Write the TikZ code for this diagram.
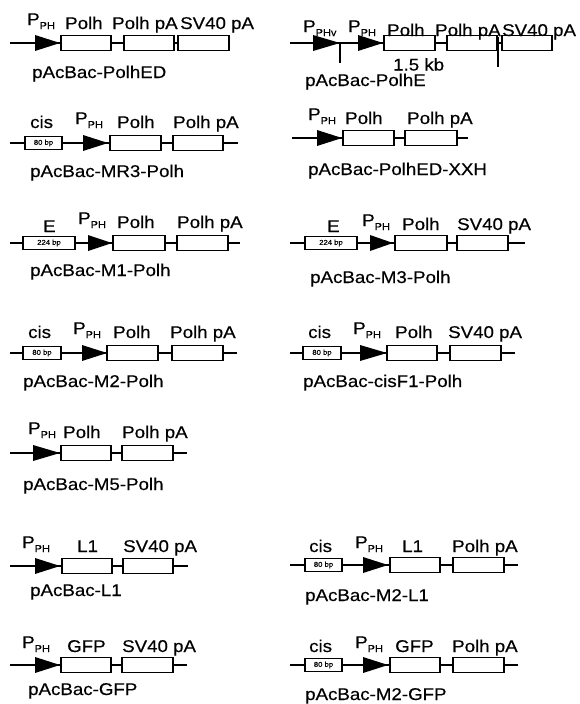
\documentclass[tikz,border=0pt]{standalone}
\usepackage{fontspec}
\setmainfont{Liberation Sans}[FakeStretch=1.1,FakeBold=0.4]
\newcommand\gnbox[4]{\pgfmathsetmacro\gw{#3-#2}\pgfmathsetmacro\gx{(#2+#3)/2}\node[gbox,minimum width=\gw pt] (#1) at (\gx,#4) {};}
\newcommand\gnsmall[5]{\pgfmathsetmacro\gw{#3-#2}\pgfmathsetmacro\gx{(#2+#3)/2}\node[sbox,minimum width=\gw pt] (#1) at (\gx,#4) {#5};}
\newcommand\gntri[4]{\fill (#2,#4-8) -- (#3,#4) -- (#2,#4+8) -- cycle; \coordinate (#1) at (#3,#4);}
\newcommand\pph{\raisebox{4pt}{P}{\fontsize{10}{10}\selectfont PH}}
\newcommand\pphv{\raisebox{4pt}{P}{\fontsize{10}{10}\selectfont PHv}}
\begin{document}
\begin{tikzpicture}[x=1pt,y=-1pt,
 bb/.style={line width=1.8pt},
 gbox/.style={draw,line width=1.8pt,fill=white,minimum height=15pt,inner sep=0pt},
 sbox/.style={draw,line width=1.6pt,fill=white,minimum height=13pt,inner sep=0pt,font=\fontsize{7}{7}\selectfont},
 lbl/.style={anchor=base west,inner sep=0pt,font=\fontsize{17}{17}\selectfont},
 tickline/.style={line width=1.5pt}]
\useasboundingbox[fill=white] (0,0) rectangle (579,704);

% ---------- Row 1 left
\coordinate (a0) at (10,43); \coordinate (a9) at (229,43);
\draw[bb] (a0) -- (a9);
\gntri{at}{35}{60}{43}
\gnbox{a1}{61}{111}{43}\gnbox{a2}{124}{174}{43}\gnbox{a3}{178}{229}{43}
\node[lbl] (al1) at (27,29) {\pph};
\node[lbl] (al2) at (65,29) {Polh};
\node[lbl] (al3) at (112,29) {Polh pA};
\node[lbl] (al4) at (180,29) {SV40 pA};
\node[lbl] (an) at (32,78) {pAcBac-PolhED};

% ---------- Row 1 right
\coordinate (b0) at (290,43); \coordinate (b9) at (552,43);
\draw[bb] (b0) -- (b9);
\gntri{bt1}{313}{340}{43}\gntri{bt2}{358}{383}{43}
\gnbox{b1}{384}{435}{43}\gnbox{b2}{447}{497}{43}\gnbox{b3}{502}{552}{43}
\coordinate (bk1a) at (340,43); \coordinate (bk1b) at (340,63);
\coordinate (bk2a) at (498,37); \coordinate (bk2b) at (498,67);
\draw[tickline] (bk1a) -- (bk1b);
\draw[tickline] (bk2a) -- (bk2b);
\node[lbl] (bl1) at (303,36) {\pphv};
\node[lbl] (bl2) at (348,36) {\pph};
\node[lbl] (bl3) at (387,36) {Polh};
\node[lbl] (bl4) at (435,36) {Polh pA};
\node[lbl] (bl5) at (502,36) {SV40 pA};
\node[lbl] (bkb) at (393,70.5) {1.5 kb};
\node[lbl] (bn) at (305,86) {pAcBac-PolhE};

% ---------- Row 2 left
\coordinate (c0) at (10,143); \coordinate (c9) at (238,143);
\draw[bb] (c0) -- (c9);
\gnsmall{cc}{25}{62}{143}{80 bp}
\gntri{ct}{83}{108}{143}
\gnbox{c1}{110}{161}{143}\gnbox{c2}{173}{223}{143}
\node[lbl] (cl0) at (30,128) {cis};
\node[lbl] (cl1) at (75,128) {\pph};
\node[lbl] (cl2) at (117,128) {Polh};
\node[lbl] (cl3) at (173,128) {Polh pA};
\node[lbl] (cn) at (30,177) {pAcBac-MR3-Polh};

% ---------- Row 2 right
\coordinate (d0) at (292,138); \coordinate (d9) at (468,138);
\draw[bb] (d0) -- (d9);
\gntri{dt}{317}{342}{138}
\gnbox{d1}{343}{394}{138}\gnbox{d2}{405}{457}{138}
\node[lbl] (dl1) at (308,124) {\pph};
\node[lbl] (dl2) at (345,124) {Polh};
\node[lbl] (dl3) at (407,124) {Polh pA};
\node[lbl] (dn) at (308,175) {pAcBac-PolhED-XXH};

% ---------- Row 3 left
\coordinate (e0) at (10,243); \coordinate (e9) at (240,243);
\draw[bb] (e0) -- (e9);
\gnsmall{ee}{23}{75}{243}{224 bp}
\gntri{et}{88}{112}{243}
\gnbox{e1}{113}{165}{243}\gnbox{e2}{177}{228}{243}
\node[lbl] (el0) at (43,232) {E};
\node[lbl] (el1) at (78,228) {\pph};
\node[lbl] (el2) at (117,228) {Polh};
\node[lbl] (el3) at (177,228) {Polh pA};
\node[lbl] (en) at (30,276) {pAcBac-M1-Polh};

% ---------- Row 3 right
\coordinate (f0) at (290,243); \coordinate (f9) at (525,243);
\draw[bb] (f0) -- (f9);
\gnsmall{fe}{305}{357}{243}{224 bp}
\gntri{ft}{370}{393}{243}
\gnbox{f1}{395}{447}{243}\gnbox{f2}{457}{508}{243}
\node[lbl] (fl0) at (327,232) {E};
\node[lbl] (fl1) at (362,230) {\pph};
\node[lbl] (fl2) at (402,230) {Polh};
\node[lbl] (fl3) at (457,230) {SV40 pA};
\node[lbl] (fn) at (310,283) {pAcBac-M3-Polh};

% ---------- Row 4 left
\coordinate (g0) at (10,353); \coordinate (g9) at (237,353);
\draw[bb] (g0) -- (g9);
\gnsmall{gc}{23}{61}{353}{80 bp}
\gntri{gt}{82}{107}{353}
\gnbox{g1}{107}{158}{353}\gnbox{g2}{172}{223}{353}
\node[lbl] (gl0) at (28,338) {cis};
\node[lbl] (gl1) at (73,338) {\pph};
\node[lbl] (gl2) at (113,338) {Polh};
\node[lbl] (gl3) at (170,338) {Polh pA};
\node[lbl] (gn) at (23,387) {pAcBac-M2-Polh};

% ---------- Row 4 right
\coordinate (h0) at (290,353); \coordinate (h9) at (515,353);
\draw[bb] (h0) -- (h9);
\gnsmall{hc}{303}{341}{353}{80 bp}
\gntri{ht}{360}{387}{353}
\gnbox{h1}{387}{437}{353}\gnbox{h2}{450}{501}{353}
\node[lbl] (hl0) at (308,338) {cis};
\node[lbl] (hl1) at (353,338) {\pph};
\node[lbl] (hl2) at (395,338) {Polh};
\node[lbl] (hl3) at (448,338) {SV40 pA};
\node[lbl] (hn) at (303,387) {pAcBac-cisF1-Polh};

% ---------- Row 5 left
\coordinate (i0) at (10,453); \coordinate (i9) at (187,453);
\draw[bb] (i0) -- (i9);
\gntri{it}{33}{60}{453}
\gnbox{i1}{61}{111}{453}\gnbox{i2}{122}{173}{453}
\node[lbl] (il1) at (28,438) {\pph};
\node[lbl] (il2) at (63,438) {Polh};
\node[lbl] (il3) at (122,438) {Polh pA};
\node[lbl] (in) at (23,490) {pAcBac-M5-Polh};

% ---------- Row 6 left
\coordinate (j0) at (10,566); \coordinate (j9) at (188,566);
\draw[bb] (j0) -- (j9);
\gntri{jt}{35}{60}{566}
\gnbox{j1}{62}{112}{566}\gnbox{j2}{123}{173}{566}
\node[lbl] (jl1) at (22,552) {\pph};
\node[lbl] (jl2) at (77,552) {L1};
\node[lbl] (jl3) at (123,552) {SV40 pA};
\node[lbl] (jn) at (30,596) {pAcBac-L1};

% ---------- Row 7 left
\coordinate (k0) at (10,665); \coordinate (k9) at (187,665);
\draw[bb] (k0) -- (k9);
\gntri{kt}{35}{60}{665}
\gnbox{k1}{61}{111}{665}\gnbox{k2}{122}{173}{665}
\node[lbl] (kl1) at (22,652) {\pph};
\node[lbl] (kl2) at (67,652) {GFP};
\node[lbl] (kl3) at (122,652) {SV40 pA};
\node[lbl] (kn) at (28,695) {pAcBac-GFP};

% ---------- Row 6 right
\coordinate (m0) at (290,565); \coordinate (m9) at (518,565);
\draw[bb] (m0) -- (m9);
\gnsmall{mc}{305}{342}{565}{80 bp}
\gntri{mt}{363}{388}{565}
\gnbox{m1}{390}{440}{565}\gnbox{m2}{453}{504}{565}
\node[lbl] (ml0) at (309,552) {cis};
\node[lbl] (ml1) at (355,552) {\pph};
\node[lbl] (ml2) at (402,552) {L1};
\node[lbl] (ml3) at (452,552) {Polh pA};
\node[lbl] (mn) at (305,601) {pAcBac-M2-L1};

% ---------- Row 7 right
\coordinate (n0) at (290,665); \coordinate (n9) at (518,665);
\draw[bb] (n0) -- (n9);
\gnsmall{nc}{305}{342}{665}{80 bp}
\gntri{nt}{363}{388}{665}
\gnbox{n1}{390}{440}{665}\gnbox{n2}{453}{504}{665}
\node[lbl] (nl0) at (309,652) {cis};
\node[lbl] (nl1) at (355,652) {\pph};
\node[lbl] (nl2) at (395,652) {GFP};
\node[lbl] (nl3) at (452,652) {Polh pA};
\node[lbl] (nn) at (305,700) {pAcBac-M2-GFP};
\end{tikzpicture}
\end{document}
